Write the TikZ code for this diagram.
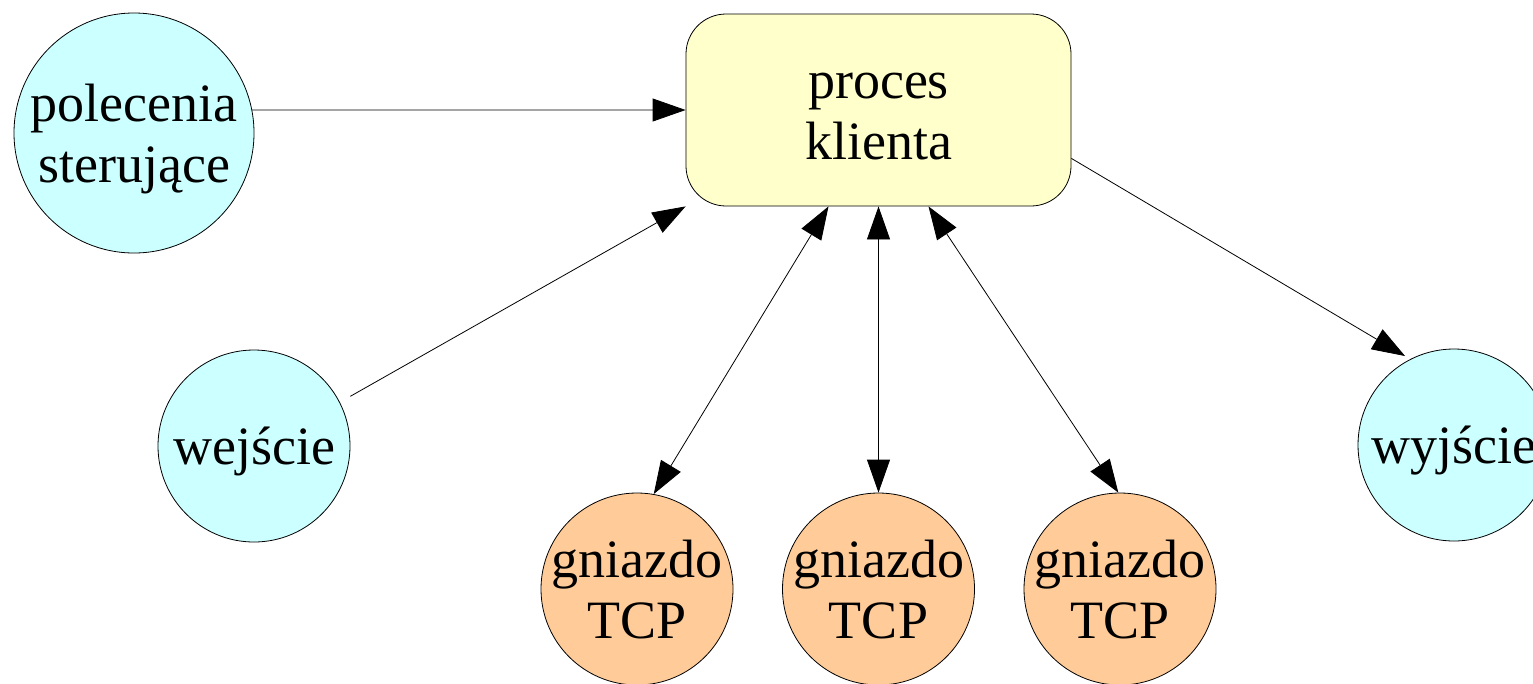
\documentclass[tikz,border=0pt]{standalone}
\usepackage{fontspec}
\setmainfont{Liberation Serif}
\usetikzlibrary{arrows.meta}
\definecolor{cyanfill}{RGB}{204,255,255}
\definecolor{tcpfill}{RGB}{255,204,153}
\definecolor{boxfill}{RGB}{255,255,204}
\tikzset{
  io/.style={draw=black, line width=0.8pt, fill=cyanfill, circle, inner sep=0pt, minimum size=192pt},
  cmd/.style={io, minimum size=240pt},
  tcp/.style={draw=black, line width=0.8pt, fill=tcpfill, circle, inner sep=0pt, minimum size=192pt},
  proc/.style={draw=black, line width=0.8pt, fill=boxfill, rounded corners=40pt, inner sep=0pt, minimum width=385pt, minimum height=192pt},
  txtone/.style={align=center, inner sep=0pt, text depth=0pt, text height=37pt},
  txttwo/.style={align=center, inner sep=0pt, text depth=0pt, text height=98pt},
  conn/.style={line width=0.8pt, -{Triangle[length=33pt,width=23pt]}},
  biconn/.style={line width=0.8pt, {Triangle[length=33pt,width=23pt]}-{Triangle[length=33pt,width=23pt]}}
}
\begin{document}
\begin{tikzpicture}[x=1pt, y=-1pt, font=\fontsize{54}{61}\selectfont]
\useasboundingbox (0,0) rectangle (1533,683);
\node[proc] (box) at (878.5,110) {};
\node[txttwo] (boxtxt) at (box) {proces\\klienta};
\node[cmd] (pol) at (134,133) {};
\node[txttwo] (poltxt) at (pol) {polecenia\\sterujące};
\node[io] (wej) at (254,446) {};
\node[txtone] (wejtxt) at (wej) {wejście};
\node[io] (wyj) at (1454,445) {};
\node[txtone] (wyjtxt) at (wyj) {wyjście};
\node[tcp] (t1) at (637,589) {};
\node[txttwo] (t1txt) at (t1) {gniazdo\\TCP};
\node[tcp] (t2) at (878.5,589) {};
\node[txttwo] (t2txt) at (t2) {gniazdo\\TCP};
\node[tcp] (t3) at (1120,589) {};
\node[txttwo] (t3txt) at (t3) {gniazdo\\TCP};
\coordinate (boxr) at ([yshift=48pt]box.south east);
\coordinate (boxl) at ([xshift=-50pt]box.south);
\coordinate (boxrr) at ([xshift=50pt]box.south);
\draw[conn] (pol.11) -- (box.west);
\draw[conn, shorten <=12pt] (wej.27) -- (box.south west);
\draw[conn, shorten >=6pt] (boxr) -- (wyj.117);
\draw[biconn] (t1.80) -- (boxl);
\draw[biconn] (t2.north) -- (box.south);
\draw[biconn] (t3.91) -- (boxrr);
\end{tikzpicture}
\end{document}
